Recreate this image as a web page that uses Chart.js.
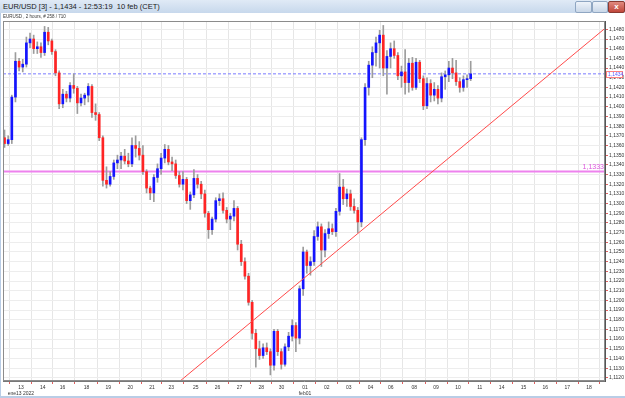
<!DOCTYPE html>
<html>
<head>
<meta charset="utf-8">
<script src="https://cdn.jsdelivr.net/npm/chart.js@4.4.1/dist/chart.umd.min.js"></script>
<style>
  body { margin: 0; width: 625px; height: 398px; overflow: hidden; background: #fff; position: relative; font-family: "Liberation Sans", Arial, sans-serif; }
  #titlebar { position: absolute; left: 0; top: 0; width: 625px; height: 13px; background: linear-gradient(#e0eaf6, #c7d8ec); z-index: 2; }
  #titlebar span { position: absolute; left: 3px; top: 2px; font-size: 7.5px; color: #1a1a1a; white-space: nowrap; }
  .btn { position: absolute; top: 1px; height: 10px; border: 1px solid #8fa6c2; border-radius: 2px; background: linear-gradient(#eef3fa, #c9d7e8); }
  #bmin { left: 575px; width: 15px; }
  #bmax { left: 592px; width: 14px; }
  #bclose { left: 608px; width: 15px; background: linear-gradient(#e08a80, #c0463a); border-color: #8a3a32; color: #fff; font-size: 8px; line-height: 10px; text-align: center; font-weight: bold; }
  #sub { position: absolute; left: 3px; top: 14px; font-size: 4.5px; color: #333; white-space: nowrap; z-index: 2; }
  #wrap { position: absolute; left: 0; top: 0; width: 625px; height: 396px; }
  #lborder { position: absolute; left: 0; top: 13px; width: 1px; height: 385px; background: #b9cde6; z-index: 2; }
  #bborder { position: absolute; left: 0; top: 396px; width: 625px; height: 2px; background: #b9cde6; z-index: 2; }
</style>
</head>
<body>
<div id="titlebar"><span>EUR/USD [3] - 1,1434 - 12:53:19&nbsp;&nbsp;10 feb (CET)</span>
  <div class="btn" id="bmin"></div><div class="btn" id="bmax"></div><div class="btn" id="bclose">x</div>
</div>
<div id="sub">EURUSD , 2 hours, # 258 / 710</div>
<div id="lborder"></div>
<div id="bborder"></div>
<div id="wrap"><canvas id="chart"></canvas></div>

<script>
// OHLC, one bar every 4 hours, 12 jan (afternoon) -> 10 feb midday
const opens = [
  1.1368, 1.1362, 1.1366, 1.1410, 1.1447, 1.1441, 1.1444, 1.1466, 1.1470, 1.1460,
  1.1462, 1.1456, 1.1477, 1.1468, 1.1457, 1.1435, 1.1403, 1.1413, 1.1409, 1.1422,
  1.1419, 1.1404, 1.1409, 1.1412, 1.1421, 1.1394, 1.1392, 1.1368, 1.1324, 1.1320,
  1.1328, 1.1342, 1.1345, 1.1349, 1.1344, 1.1341, 1.1360, 1.1357, 1.1350, 1.1333,
  1.1316, 1.1311, 1.1327, 1.1336, 1.1347, 1.1356, 1.1343, 1.1341, 1.1329, 1.1320,
  1.1325, 1.1303, 1.1309, 1.1326, 1.1320, 1.1310, 1.1290, 1.1273, 1.1284, 1.1303,
  1.1305, 1.1293, 1.1284, 1.1287, 1.1295, 1.1258, 1.1240, 1.1225, 1.1198, 1.1166,
  1.1150, 1.1143, 1.1151, 1.1147, 1.1133, 1.1168, 1.1147, 1.1134, 1.1152, 1.1163,
  1.1174, 1.1161, 1.1212, 1.1250, 1.1236, 1.1240, 1.1266, 1.1276, 1.1252, 1.1269,
  1.1274, 1.1271, 1.1292, 1.1317, 1.1305, 1.1310, 1.1297, 1.1293, 1.1281, 1.1366,
  1.1420, 1.1443, 1.1456, 1.1466, 1.1474, 1.1440, 1.1452, 1.1460, 1.1453, 1.1432,
  1.1436, 1.1425, 1.1445, 1.1420, 1.1446, 1.1429, 1.1401, 1.1424, 1.1412, 1.1418,
  1.1409, 1.1431, 1.1433, 1.1440, 1.1435, 1.1426, 1.1420, 1.1428, 1.1429
];
const highs = [
  1.1376, 1.1370, 1.1412, 1.1456, 1.1450, 1.1449, 1.1472, 1.1476, 1.1474, 1.1467,
  1.1466, 1.1483, 1.1482, 1.1470, 1.1459, 1.1437, 1.1418, 1.1416, 1.1425, 1.1434,
  1.1421, 1.1413, 1.1414, 1.1424, 1.1423, 1.1403, 1.1394, 1.1370, 1.1338, 1.1333,
  1.1345, 1.1350, 1.1353, 1.1356, 1.1352, 1.1368, 1.1370, 1.1364, 1.1360, 1.1335,
  1.1318, 1.1330, 1.1341, 1.1352, 1.1361, 1.1360, 1.1348, 1.1345, 1.1333, 1.1333,
  1.1327, 1.1312, 1.1335, 1.1330, 1.1323, 1.1314, 1.1292, 1.1286, 1.1306, 1.1310,
  1.1311, 1.1296, 1.1290, 1.1303, 1.1297, 1.1262, 1.1244, 1.1228, 1.1200, 1.1170,
  1.1158, 1.1155, 1.1156, 1.1150, 1.1170, 1.1170, 1.1150, 1.1155, 1.1167, 1.1180,
  1.1177, 1.1215, 1.1255, 1.1252, 1.1245, 1.1272, 1.1281, 1.1279, 1.1273, 1.1281,
  1.1279, 1.1295, 1.1331, 1.1325, 1.1315, 1.1314, 1.1305, 1.1296, 1.1368, 1.1424,
  1.1447, 1.1462, 1.1472, 1.1479, 1.1484, 1.1458, 1.1466, 1.1468, 1.1456, 1.1442,
  1.1459, 1.1450, 1.1451, 1.1450, 1.1448, 1.1432, 1.1430, 1.1428, 1.1425, 1.1422,
  1.1435, 1.1437, 1.1447, 1.1450, 1.1448, 1.1430, 1.1432, 1.1433, 1.1447
];
const lows = [
  1.1358, 1.1360, 1.1362, 1.1405, 1.1437, 1.1436, 1.1441, 1.1461, 1.1455, 1.1455,
  1.1451, 1.1453, 1.1464, 1.1454, 1.1432, 1.1398, 1.1399, 1.1405, 1.1405, 1.1414,
  1.1393, 1.1401, 1.1402, 1.1405, 1.1389, 1.1386, 1.1365, 1.1318, 1.1316, 1.1318,
  1.1325, 1.1336, 1.1336, 1.1341, 1.1338, 1.1338, 1.1348, 1.1345, 1.1330, 1.1311,
  1.1304, 1.1302, 1.1322, 1.1330, 1.1342, 1.1340, 1.1334, 1.1326, 1.1317, 1.1314,
  1.1300, 1.1294, 1.1306, 1.1316, 1.1305, 1.1286, 1.1264, 1.1268, 1.1281, 1.1298,
  1.1290, 1.1280, 1.1273, 1.1282, 1.1252, 1.1236, 1.1222, 1.1195, 1.1160, 1.1131,
  1.1139, 1.1140, 1.1144, 1.1123, 1.1128, 1.1143, 1.1129, 1.1132, 1.1148, 1.1158,
  1.1147, 1.1155, 1.1205, 1.1228, 1.1226, 1.1236, 1.1262, 1.1235, 1.1245, 1.1264,
  1.1268, 1.1266, 1.1288, 1.1299, 1.1297, 1.1293, 1.1290, 1.1270, 1.1276, 1.1360,
  1.1412, 1.1430, 1.1442, 1.1440, 1.1432, 1.1413, 1.1440, 1.1450, 1.1428, 1.1420,
  1.1413, 1.1415, 1.1417, 1.1418, 1.1425, 1.1397, 1.1398, 1.1405, 1.1406, 1.1403,
  1.1405, 1.1418, 1.1426, 1.1429, 1.1422, 1.1415, 1.1416, 1.1420, 1.1427
];
const closes = [
  1.1362, 1.1366, 1.1410, 1.1447, 1.1441, 1.1444, 1.1466, 1.1470, 1.1460, 1.1462,
  1.1456, 1.1477, 1.1468, 1.1457, 1.1435, 1.1403, 1.1413, 1.1409, 1.1422, 1.1419,
  1.1404, 1.1409, 1.1412, 1.1421, 1.1394, 1.1392, 1.1368, 1.1324, 1.1320, 1.1328,
  1.1342, 1.1345, 1.1349, 1.1344, 1.1341, 1.1360, 1.1357, 1.1350, 1.1333, 1.1316,
  1.1311, 1.1327, 1.1336, 1.1347, 1.1356, 1.1343, 1.1341, 1.1329, 1.1320, 1.1325,
  1.1303, 1.1309, 1.1326, 1.1320, 1.1310, 1.1290, 1.1273, 1.1284, 1.1303, 1.1305,
  1.1293, 1.1284, 1.1287, 1.1295, 1.1258, 1.1240, 1.1225, 1.1198, 1.1166, 1.1150,
  1.1143, 1.1151, 1.1147, 1.1133, 1.1168, 1.1147, 1.1134, 1.1152, 1.1163, 1.1174,
  1.1161, 1.1212, 1.1250, 1.1236, 1.1240, 1.1266, 1.1276, 1.1252, 1.1269, 1.1274,
  1.1271, 1.1292, 1.1317, 1.1305, 1.1310, 1.1297, 1.1293, 1.1281, 1.1366, 1.1420,
  1.1443, 1.1456, 1.1466, 1.1474, 1.1440, 1.1452, 1.1460, 1.1453, 1.1432, 1.1436,
  1.1425, 1.1445, 1.1420, 1.1446, 1.1429, 1.1401, 1.1424, 1.1412, 1.1418, 1.1409,
  1.1431, 1.1433, 1.1440, 1.1435, 1.1426, 1.1420, 1.1428, 1.1429, 1.1434
];

// x axis: trading days, 0 = 13 jan
const dayLabels = ['13','14','16','18','19','20','21','23','25','26','27','28','30','01','02','03','04','06','08','09','10','11','14','15','16','17','18'];
const dayPos    = [0, 1, 1.9, 3, 4, 5, 6, 6.88, 8, 9, 10, 11, 11.93, 13, 14, 15, 16, 16.93, 18, 19, 20, 21, 22, 23, 24, 25, 26];
const monthLabels = { 0: 'ene13 2022', 13: 'feb01' };

const priceTicks = [];
for (let k = 0; k <= 36; k++) priceTicks.push(+(1.1120 + k * 0.001).toFixed(4));

const levelPrice = 1.1333;           // horizontal magenta level
const lastPrice = 1.1434;            // current price (dashed)
const trendDays = [6.5, 26.73];      // red trend line
const trendPrices = [1.1102, 1.1481];

const xMin = -0.82, xMax = 26.73;
const yMin = 1.11167, yMax = 1.14886;

const fmt = v => v.toFixed(4).replace('.', ',');

// bar time in days (6 bars a day)
const barTime = opens.map((_, i) => -0.75 + i / 6);
const wickData = barTime.map((x, i) => ({ x: x, y: [lows[i], highs[i]] }));
const bodyData = barTime.map((x, i) => ({ x: x, y: [opens[i], closes[i]] }));
const bodyColors = opens.map((o, i) => closes[i] >= o ? '#1414ff' : '#ff2424');

const overlay = {
  id: 'overlay',
  afterDatasetsDraw(chart) {
    const { ctx, chartArea: a, scales: { y } } = chart;
    ctx.save();
    ctx.strokeStyle = '#8c8c8c';
    ctx.lineWidth = 1;
    ctx.strokeRect(a.left + 0.5, a.top + 0.5, a.right - a.left - 1, a.bottom - a.top - 1);

    // level label
    ctx.font = '7px "Liberation Sans"';
    ctx.fillStyle = '#dd55dd';
    ctx.textAlign = 'right';
    ctx.textBaseline = 'bottom';
    ctx.fillText(fmt(levelPrice), a.right - 1, y.getPixelForValue(levelPrice) - 1);

    // last price box on the axis
    const py = Math.round(y.getPixelForValue(lastPrice));
    ctx.fillStyle = '#fff';
    ctx.fillRect(a.right + 1, py - 3, 17, 7);
    ctx.strokeStyle = '#ff8080';
    ctx.strokeRect(a.right + 1.5, py - 2.5, 16, 6);
    ctx.fillStyle = '#5a5aff';
    ctx.font = '5px "Liberation Sans"';
    ctx.textAlign = 'left';
    ctx.textBaseline = 'middle';
    ctx.fillText(fmt(lastPrice), a.right + 3, py + 0.5);
    ctx.restore();
  }
};

new Chart(document.getElementById('chart'), {
  type: 'bar',
  data: {
    datasets: [
      {
        type: 'line',
        data: [{ x: xMin, y: levelPrice }, { x: xMax, y: levelPrice }],
        borderColor: '#ee82ee',
        borderWidth: 2,
        pointRadius: 0,
        order: 6
      },
      {
        type: 'line',
        data: [{ x: xMin, y: lastPrice }, { x: xMax, y: lastPrice }],
        borderColor: '#7a7aff',
        borderWidth: 1,
        borderDash: [3, 2],
        pointRadius: 0,
        order: 5
      },
      {
        data: wickData,
        backgroundColor: '#9c9c9c',
        barThickness: 1,
        grouped: false,
        order: 4
      },
      {
        data: bodyData,
        backgroundColor: bodyColors,
        barThickness: 2,
        minBarLength: 1,
        grouped: false,
        order: 3
      },
      {
        type: 'line',
        data: trendDays.map((d, i) => ({ x: d, y: trendPrices[i] })),
        borderColor: '#ff4a4a',
        borderWidth: 1,
        pointRadius: 0,
        order: 1
      }
    ]
  },
  options: {
    responsive: true,
    maintainAspectRatio: false,
    animation: false,
    layout: { padding: { top: 21, left: 3, right: 0, bottom: 0 } },
    plugins: { legend: { display: false }, tooltip: { enabled: false } },
    scales: {
      x: {
        type: 'linear',
        position: 'bottom',
        min: xMin,
        max: xMax,
        offset: false,
        afterBuildTicks: s => { s.ticks = dayPos.map(v => ({ value: v })); },
        afterFit: s => { s.height = 15; },
        ticks: {
          autoSkip: false,
          maxRotation: 0,
          padding: 1,
          color: '#333',
          font: { family: 'Liberation Sans', size: 5 },
          callback: (v, i) => monthLabels[i] ? [dayLabels[i], monthLabels[i]] : dayLabels[i]
        },
        grid: { color: '#e6e6e6', tickColor: '#e06060', tickLength: 3 },
        border: { color: '#777' }
      },
      y: {
        type: 'linear',
        position: 'right',
        min: yMin,
        max: yMax,
        afterBuildTicks: s => { s.ticks = priceTicks.map(v => ({ value: v })); },
        afterFit: s => { s.width = 20; },
        ticks: {
          padding: 1,
          color: '#333',
          font: { family: 'Liberation Sans', size: 5 },
          callback: v => fmt(v)
        },
        grid: { color: '#ededed', tickColor: '#e06060', tickLength: 3 },
        border: { color: '#555' }
      }
    }
  },
  plugins: [overlay]
});
</script>
</body>
</html>
